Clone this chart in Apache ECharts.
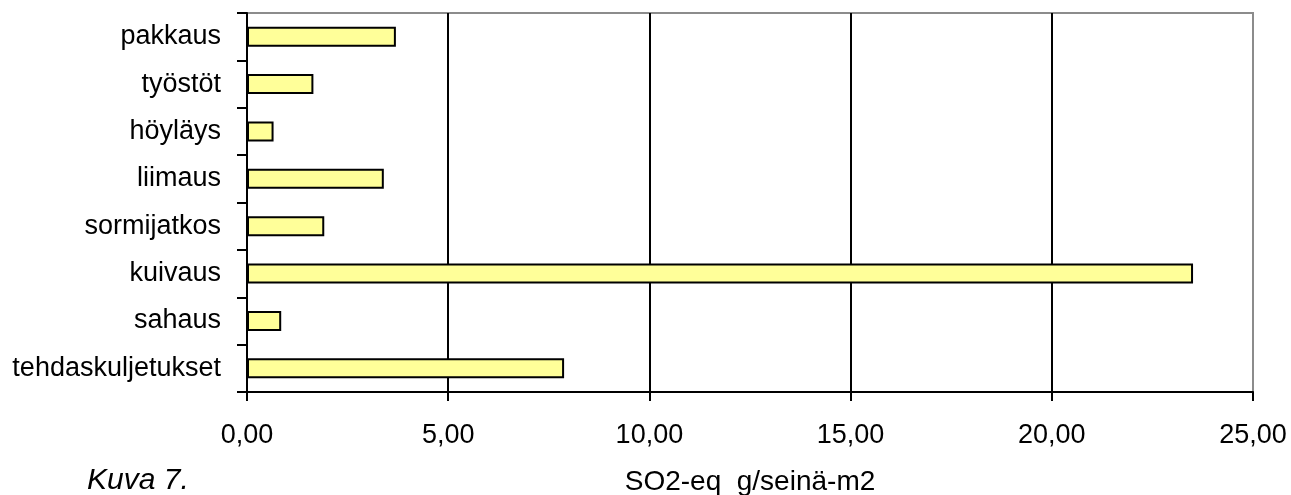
<!DOCTYPE html>
<html>
<head>
<meta charset="utf-8">
<script src="https://cdn.jsdelivr.net/npm/echarts@6/dist/echarts.min.js"></script>
<style>
  html, body { margin: 0; padding: 0; background: #fff; }
  #main { width: 1291px; height: 495px; }
</style>
</head>
<body>
<div id="main"></div>
<script>
// kategoriat alhaalta ylös
var categories = ["tehdaskuljetukset", "sahaus", "kuivaus", "sormijatkos", "liimaus", "höyläys", "työstöt", "pakkaus"];
var values = [7.88, 0.85, 23.51, 1.92, 3.40, 0.66, 1.65, 3.70];
var xTicks = [0, 5, 10, 15, 20, 25];
var axisTitle = "SO2-eq  g/seinä-m2";
var caption = "Kuva 7.";

var myChart = echarts.init(document.getElementById("main"));

var font = "Liberation Sans, Arial, sans-serif";

var option = {
  animation: false,
  grid: {
    show: true,
    left: 247,
    right: 38,
    top: 13,
    bottom: 103,
    outerBoundsMode: "none",
    containLabel: false,
    borderColor: "#8c8c8c",
    borderWidth: 2,
    backgroundColor: "#fff"
  },
  xAxis: {
    type: "value",
    min: xTicks[0],
    max: xTicks[xTicks.length - 1],
    interval: 5,
    name: axisTitle,
    nameLocation: "middle",
    nameGap: 76,
    nameTextStyle: { fontFamily: font, fontSize: 28, color: "#000" },
    axisLine: { show: true, lineStyle: { color: "#000", width: 2 } },
    axisTick: { show: true, length: 9, lineStyle: { color: "#000", width: 2 } },
    axisLabel: {
      margin: 30,
      fontFamily: font,
      fontSize: 27,
      color: "#000",
      formatter: function (v) { return v.toFixed(2).replace(".", ","); }
    },
    splitLine: { show: true, showMinLine: false, showMaxLine: false, lineStyle: { color: "#000", width: 2 } }
  },
  yAxis: {
    type: "category",
    data: categories,
    axisLine: { show: true, lineStyle: { color: "#000", width: 2 } },
    axisTick: { show: true, length: 10, lineStyle: { color: "#000", width: 2 } },
    axisLabel: { margin: 26, fontFamily: font, fontSize: 27, color: "#000" },
    splitLine: { show: false }
  },
  series: [
    {
      type: "bar",
      data: values,
      barWidth: 20,
      itemStyle: { color: "#ffff99", borderColor: "#000", borderWidth: 2 }
    }
  ],
  graphic: [
    {
      type: "text",
      left: 87,
      top: 466,
      style: { text: caption, font: "italic 30px Liberation Sans, Arial, sans-serif", fill: "#000" }
    }
  ]
};

myChart.setOption(option);
</script>
</body>
</html>
